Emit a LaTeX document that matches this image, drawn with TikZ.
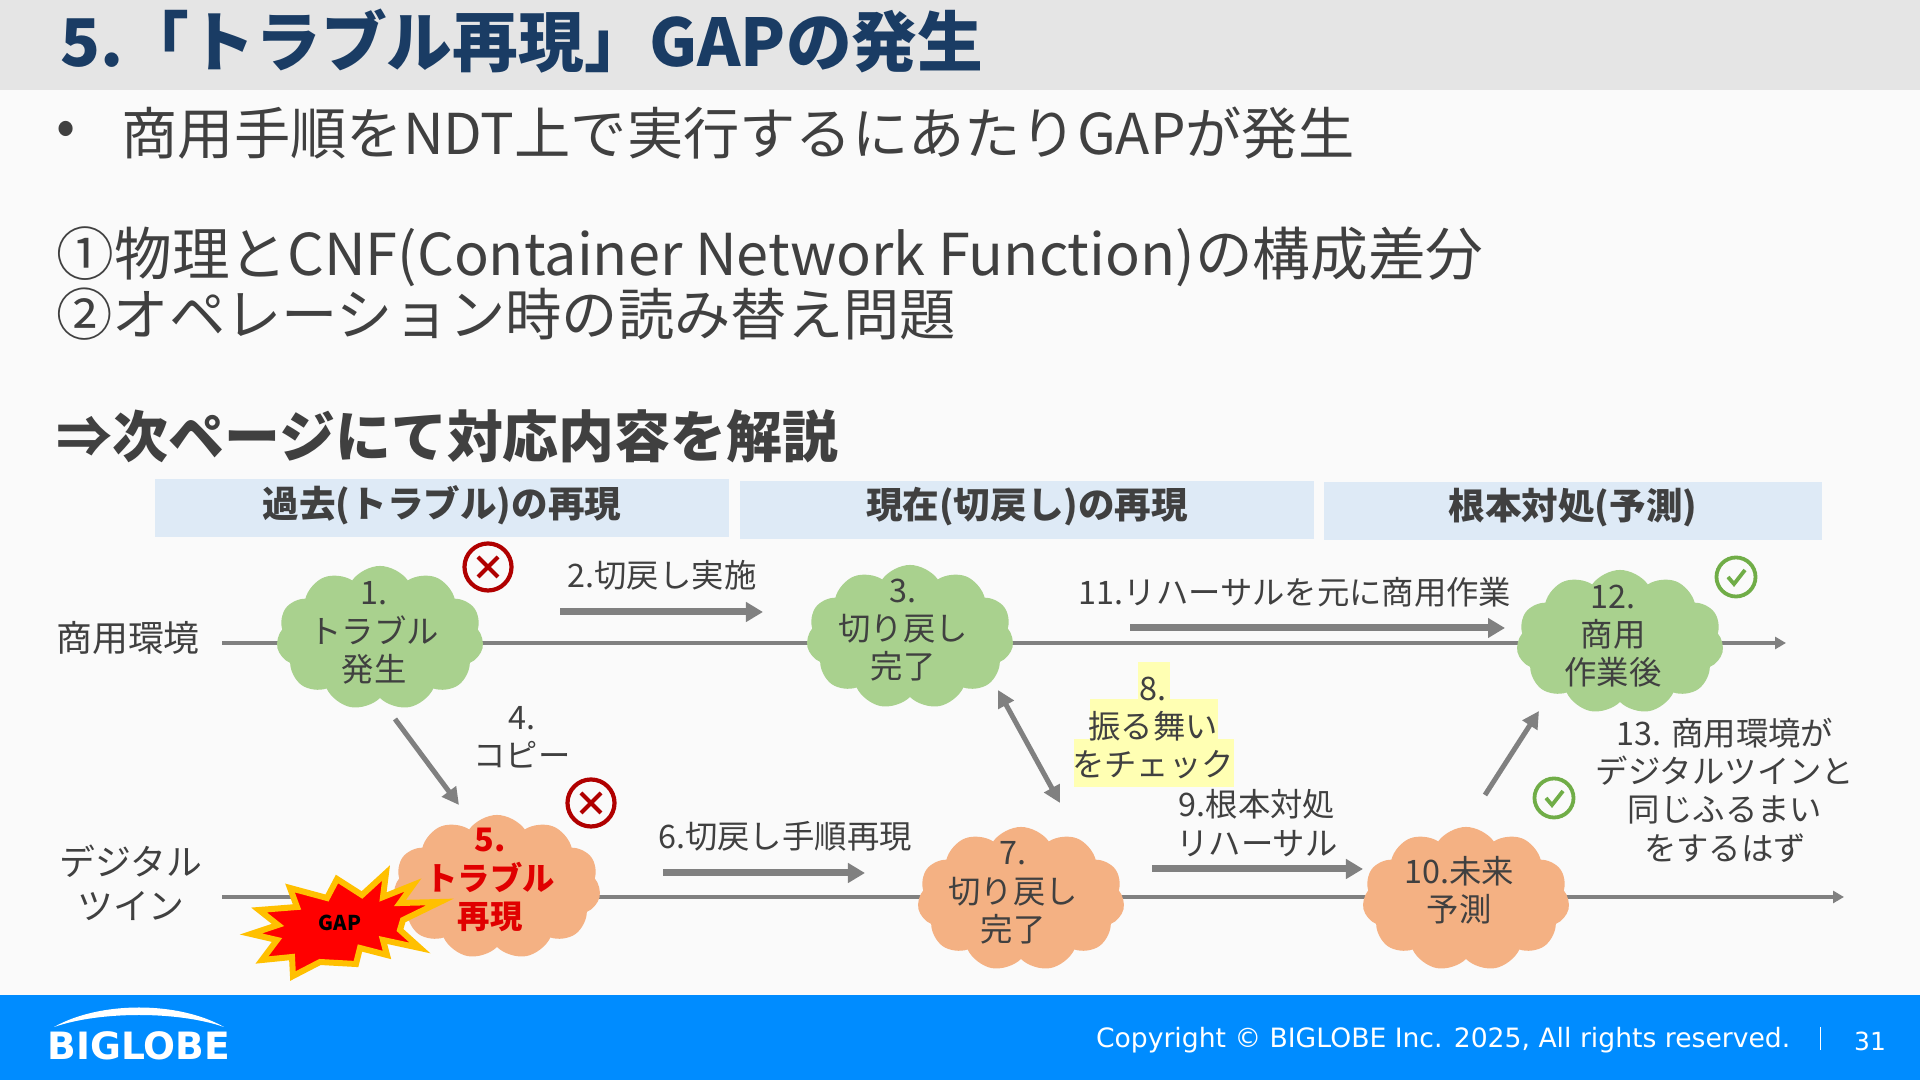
\documentclass[tikz,border=0pt]{standalone}
\usepackage{fontspec}
\setmainfont{Noto Sans CJK JP}
\newfontfamily\latinfont{DejaVu Sans}
\usetikzlibrary{arrows.meta,shapes.symbols}
\definecolor{txt}{RGB}{64,64,64}
\definecolor{ttl}{RGB}{26,60,100}
\definecolor{ln}{RGB}{128,128,128}
\definecolor{hdr}{RGB}{222,234,246}
\definecolor{grn}{RGB}{169,209,142}
\definecolor{org}{RGB}{244,177,131}
\definecolor{badr}{RGB}{176,0,0}
\definecolor{okg}{RGB}{112,173,71}
\definecolor{foot}{RGB}{0,140,255}
\definecolor{hl}{RGB}{255,255,179}
\newcommand{\fsz}[2]{\fontsize{#1}{#2}\selectfont}
\begin{document}
\begin{tikzpicture}[x=0.01cm, y=-0.01cm,
  hband/.style={minimum height=5.8mm, inner sep=0pt, fill=hdr},
  htext/.style={font=\fsz{10.4pt}{12pt}\bfseries, text=txt},
  lab/.style={font=\fsz{9.2pt}{10.9pt}, text=txt, align=center, inner sep=0pt},
  big/.style={font=\fsz{10.2pt}{12.4pt}, text=txt, align=center, inner sep=0pt},
  body/.style={font=\fsz{16pt}{19pt}, text=txt, anchor=west, inner sep=0pt},
  cld/.style={cloud, cloud puffs=11, cloud puff arc=110, cloud ignores aspect,
              minimum width=20.7mm, minimum height=14.4mm, inner sep=0pt},
  cg/.style={cld, fill=grn},
  co/.style={cld, fill=org},
  tl/.style={-{Triangle[length=1.1mm,width=1.2mm]}, line width=0.35mm, ln},
  ar/.style={-{Triangle[length=1.7mm,width=1.9mm]}, line width=0.7mm, ln},
  ar2/.style={{Triangle[length=1.7mm,width=1.7mm]}-{Triangle[length=1.7mm,width=1.7mm]}, line width=0.5mm, ln},
  arn/.style={-{Triangle[length=1.7mm,width=1.7mm]}, line width=0.5mm, ln},
  hlt/.style={inner sep=0pt, fill=hl},
  badx/.style={circle, draw=badr, line width=0.42mm, minimum size=4.7mm, inner sep=0pt, fill=none,
    path picture={\draw[badr, line width=0.42mm]
      ([shift={(-10,-10)}]path picture bounding box.center) -- ([shift={(10,10)}]path picture bounding box.center)
      ([shift={(-10,10)}]path picture bounding box.center) -- ([shift={(10,-10)}]path picture bounding box.center);}},
  okc/.style={circle, draw=okg, line width=0.38mm, minimum size=3.9mm, inner sep=0pt, fill=none,
    path picture={\draw[okg, line width=0.38mm]
      ([shift={(-8,0)}]path picture bounding box.center) -- ([shift={(-2,7)}]path picture bounding box.center)
      -- ([shift={(9,-7)}]path picture bounding box.center);}}]
\useasboundingbox (0,0) rectangle (1920,1080);
\fill[white!98!black] (0,0) rectangle (1920,1080);
\fill[black!10] (0,0) rectangle (1920,90);
\fill[foot] (0,995) rectangle (1920,1080);

\node[font=\fsz{18.7pt}{22pt}\bfseries, text=ttl, anchor=west, inner sep=0pt] (title) at (60,41) {5.「トラブル再現」GAPの発生};
\node[body] (bul) at (56,133) {•};
\node[body] (b1) at (121,133) {商用手順をNDT上で実行するにあたりGAPが発生};
\node[body, font=\fsz{16.4pt}{19pt}] (b2) at (56,257) {①物理とCNF(Container Network Function)の構成差分};
\node[body] (b3) at (56,314) {②オペレーション時の読み替え問題};
\node[body, font=\fsz{15.9pt}{19pt}\bfseries] (b4) at (56,436) {⇒次ページにて対応内容を解説};

\node[hband, minimum width=57.4mm] (h1) at (442,508) {};
\node[hband, minimum width=57.4mm] (h2) at (1027,510) {};
\node[hband, minimum width=49.8mm] (h3) at (1573,511) {};
\node[htext] (h1t) at (442,505) {過去(トラブル)の再現};
\node[htext] (h2t) at (1027,507) {現在(切戻し)の再現};
\node[htext] (h3t) at (1573,508) {根本対処(予測)};

\node[big] (env) at (128,638) {商用環境};
\node[big] (twin) at (131,883) {デジタル\\ツイン};
\coordinate (envs) at (222,643);
\coordinate (enve) at (1786,643);
\coordinate (twins) at (222,897);
\coordinate (twine) at (1844,897);
\draw[tl] (envs) -- (enve);
\draw[tl] (twins) -- (twine);

\node[cg] (c1) at (380,638) {};
\node[cg] (c3) at (910,637) {};
\node[cg] (c12) at (1620,642) {};
\node[co] (c5) at (497,887) {};
\node[co] (c7) at (1021,899) {};
\node[co] (c10) at (1466,899) {};
\node[lab] (t1) at (374,633) {1.\\トラブル\\発生};
\node[lab] (t3) at (903,630) {3.\\切り戻し\\完了};
\node[lab] (t12) at (1613,636) {12.\\商用\\作業後};
\node[lab, text={rgb,255:red,224;green,0;blue,0}, font=\fsz{9.2pt}{10.9pt}\bfseries] (t5) at (490,880) {5.\\トラブル\\再現};
\node[lab] (t7) at (1013,893) {7.\\切り戻し\\完了};
\node[lab] (t10) at (1459,890) {10.未来\\予測};

\draw[line width=0.6mm, draw={rgb,255:red,255;green,192;blue,0}, fill=red, line join=miter]
  (290,888) -- (327,898) -- (337,879) -- (362,895) -- (386,873) -- (383,897) -- (413,885)
  -- (400,903) -- (440,902) -- (403,920) -- (400,930) -- (420,948) -- (383,940) -- (387,955)
  -- (360,948) -- (356,964) -- (320,962) -- (293,976) -- (292,957) -- (262,960) -- (277,940)
  -- (251,934) -- (278,925) -- (259,910) -- (297,907) -- cycle;
\node[font=\fsz{5.8pt}{7pt}\bfseries, text=black, inner sep=0pt] (gap) at (340,923) {GAP};

\node[badx] (x1) at (488,567) {};
\node[badx] (x5) at (591,803) {};
\node[okc] (ok12) at (1736,577) {};
\node[okc] (ok10) at (1554,798) {};

\coordinate (a2s) at (560,612);
\coordinate (a2e) at (763,612);
\coordinate (a4s) at (395,719);
\coordinate (a4e) at (459,805);
\coordinate (a6s) at (663,873);
\coordinate (a6e) at (865,873);
\coordinate (a8s) at (998,690);
\coordinate (a8e) at (1060,803);
\coordinate (a9s) at (1152,869);
\coordinate (a9e) at (1363,869);
\coordinate (a11s) at (1130,628);
\coordinate (a11e) at (1505,628);
\coordinate (a13s) at (1485,795);
\coordinate (a13e) at (1539,711);
\draw[ar] (a2s) -- (a2e);
\draw[arn] (a4s) -- (a4e);
\draw[ar] (a6s) -- (a6e);
\draw[ar2] (a8s) -- (a8e);
\draw[ar] (a9s) -- (a9e);
\draw[ar] (a11s) -- (a11e);
\draw[arn] (a13s) -- (a13e);

\node[lab] (l2) at (662,575) {2.切戻し実施};
\node[lab] (l4) at (522,737) {4.\\コピー};
\node[lab] (l6) at (785,836) {6.切戻し手順再現};
\node[lab] (l11) at (1295,592) {11.リハーサルを元に商用作業};
\node[hlt, minimum width=3.1mm, minimum height=3.7mm] (l8a) at (1154,681) {};
\node[hlt, minimum width=12.8mm, minimum height=3.9mm] (l8b) at (1154,719) {};
\node[hlt, minimum width=16mm, minimum height=4.8mm] (l8c) at (1154,763) {};
\node[lab] (l8) at (1153,728) {8.\\振る舞い\\をチェック};
\node[lab] (l9) at (1257,823) {9.根本対処\\リハーサル};
\node[lab] (l13) at (1725,790) {13. 商用環境が\\デジタルツインと\\同じふるまい\\をするはず};

\fill[white] (54,1027) .. controls (100,1001) and (178,1001) .. (224,1027)
  .. controls (178,1011) and (100,1011) .. cycle;
\node[font=\latinfont\fsz{10.7pt}{13pt}\bfseries, text=white, inner sep=0pt] (logo) at (139,1046) {BIGLOBE};
\node[font=\latinfont\fsz{7.57pt}{9pt}, text=white, anchor=east, inner sep=0pt] (copy) at (1791,1040) {Copyright © BIGLOBE Inc. 2025, All rights reserved.};
\node[font=\latinfont\fsz{7.1pt}{9pt}, text=white, inner sep=0pt] (page) at (1870,1041) {31};
\coordinate (seps) at (1820,1027);
\coordinate (sepe) at (1820,1050);
\draw[white, line width=0.1mm] (seps) -- (sepe);
\end{tikzpicture}
\end{document}
